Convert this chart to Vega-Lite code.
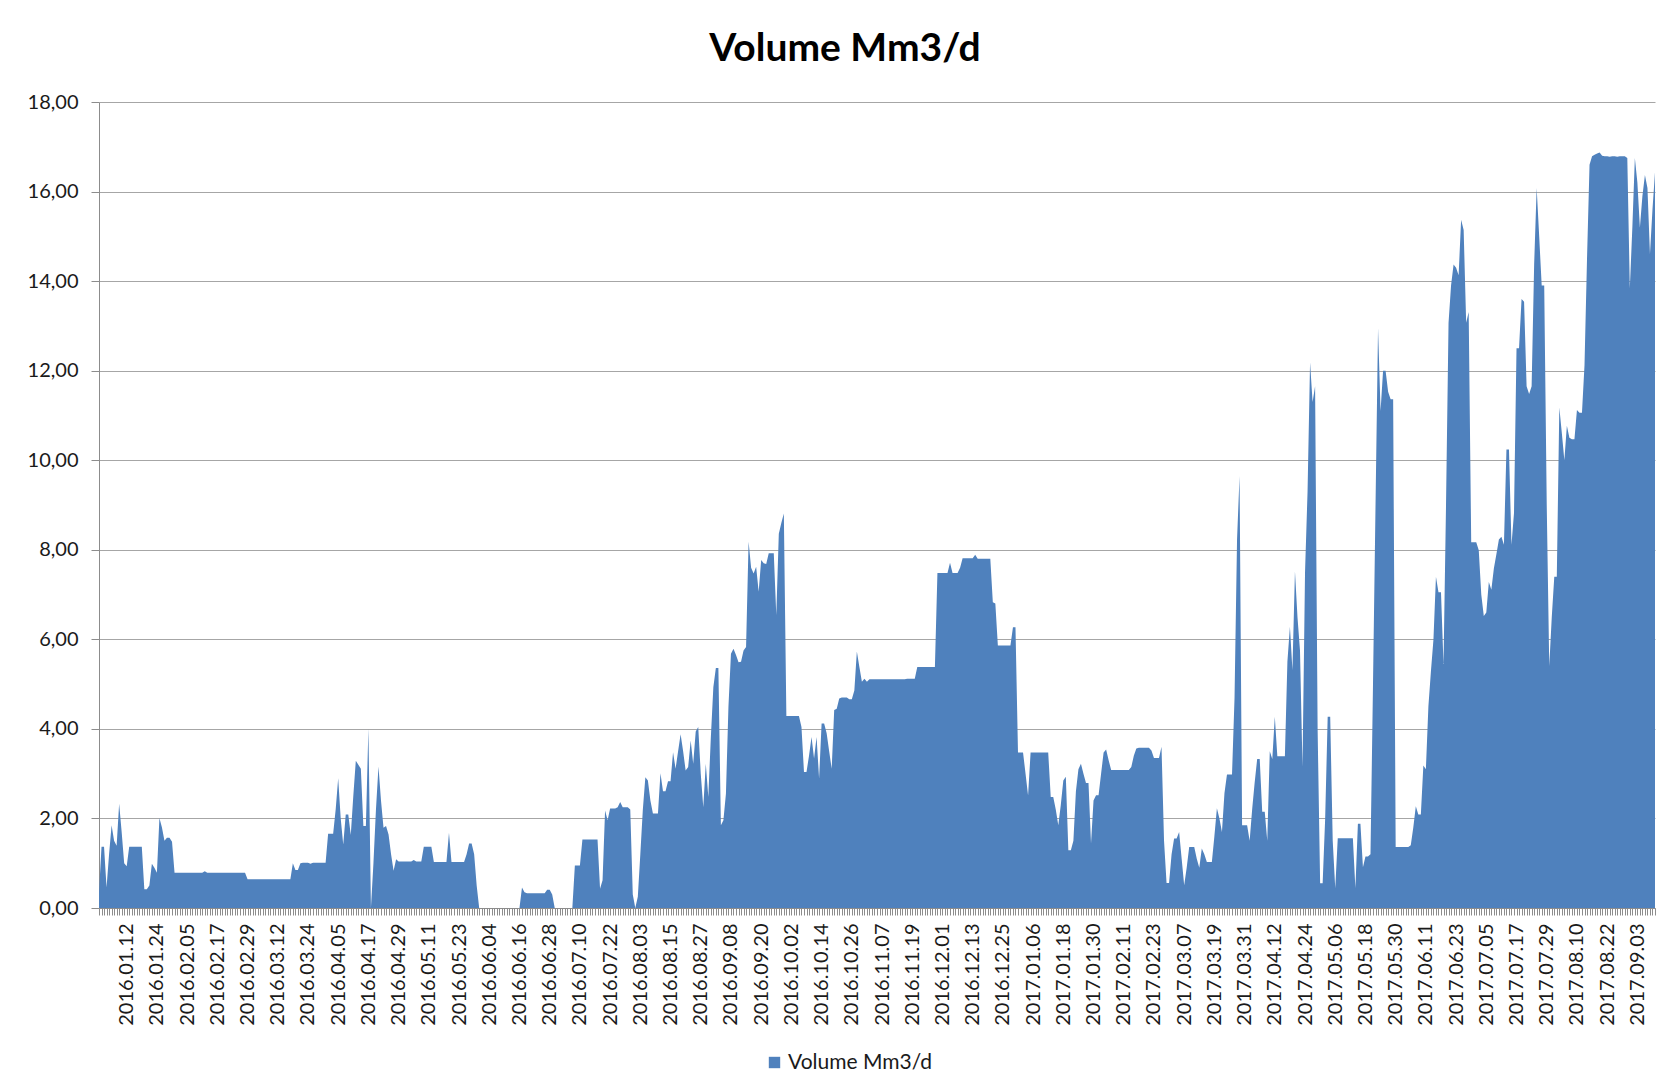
{
  "$schema": "https://vega.github.io/schema/vega-lite/v6.json",
  "autosize": {"type": "none"},
  "padding": {"left": 99, "top": 102, "right": 15, "bottom": 183},
  "width": 1556,
  "height": 806,
  "background": "white",
  "config": {"view": {"stroke": null}, "font": "Lato"},
  "title": {"text": "Volume Mm3/d", "fontSize": 39, "font": "Lato", "fontWeight": "bold", "color": "#000000", "anchor": "middle", "dx": -32, "offset": 23},
  "data": {
    "format": {"parse": {"date": "utc:'%Y-%m-%d'"}},
    "values": [
{"date":"2016-01-01","v":0.35},{"date":"2016-01-02","v":1.37},{"date":"2016-01-03","v":1.37},{"date":"2016-01-04","v":0.46},{"date":"2016-01-05","v":1.2},{"date":"2016-01-06","v":1.85},{"date":"2016-01-07","v":1.5},{"date":"2016-01-08","v":1.39},{"date":"2016-01-09","v":2.33},{"date":"2016-01-10","v":1.7},{"date":"2016-01-11","v":1.0},{"date":"2016-01-12","v":0.93},{"date":"2016-01-13","v":1.37},{"date":"2016-01-14","v":1.37},{"date":"2016-01-15","v":1.37},{"date":"2016-01-16","v":1.37},{"date":"2016-01-17","v":1.37},{"date":"2016-01-18","v":1.37},{"date":"2016-01-19","v":0.42},{"date":"2016-01-20","v":0.42},{"date":"2016-01-21","v":0.5},{"date":"2016-01-22","v":0.99},{"date":"2016-01-23","v":0.9},{"date":"2016-01-24","v":0.79},{"date":"2016-01-25","v":2.01},{"date":"2016-01-26","v":1.8},{"date":"2016-01-27","v":1.5},{"date":"2016-01-28","v":1.57},{"date":"2016-01-29","v":1.57},{"date":"2016-01-30","v":1.48},{"date":"2016-01-31","v":0.79},
{"date":"2016-02-01","v":0.79},{"date":"2016-02-02","v":0.79},{"date":"2016-02-03","v":0.79},{"date":"2016-02-04","v":0.79},{"date":"2016-02-05","v":0.79},{"date":"2016-02-06","v":0.79},{"date":"2016-02-07","v":0.79},{"date":"2016-02-08","v":0.79},{"date":"2016-02-09","v":0.79},{"date":"2016-02-10","v":0.79},{"date":"2016-02-11","v":0.79},{"date":"2016-02-12","v":0.82},{"date":"2016-02-13","v":0.79},{"date":"2016-02-14","v":0.79},{"date":"2016-02-15","v":0.79},{"date":"2016-02-16","v":0.79},{"date":"2016-02-17","v":0.79},{"date":"2016-02-18","v":0.79},{"date":"2016-02-19","v":0.79},{"date":"2016-02-20","v":0.79},{"date":"2016-02-21","v":0.79},{"date":"2016-02-22","v":0.79},{"date":"2016-02-23","v":0.79},{"date":"2016-02-24","v":0.79},{"date":"2016-02-25","v":0.79},{"date":"2016-02-26","v":0.79},{"date":"2016-02-27","v":0.79},{"date":"2016-02-28","v":0.79},{"date":"2016-02-29","v":0.64},
{"date":"2016-03-01","v":0.64},{"date":"2016-03-02","v":0.64},{"date":"2016-03-03","v":0.64},{"date":"2016-03-04","v":0.64},{"date":"2016-03-05","v":0.64},{"date":"2016-03-06","v":0.64},{"date":"2016-03-07","v":0.64},{"date":"2016-03-08","v":0.64},{"date":"2016-03-09","v":0.64},{"date":"2016-03-10","v":0.64},{"date":"2016-03-11","v":0.64},{"date":"2016-03-12","v":0.64},{"date":"2016-03-13","v":0.64},{"date":"2016-03-14","v":0.64},{"date":"2016-03-15","v":0.64},{"date":"2016-03-16","v":0.64},{"date":"2016-03-17","v":0.64},{"date":"2016-03-18","v":1.0},{"date":"2016-03-19","v":0.85},{"date":"2016-03-20","v":0.85},{"date":"2016-03-21","v":1.0},{"date":"2016-03-22","v":1.01},{"date":"2016-03-23","v":1.01},{"date":"2016-03-24","v":1.01},{"date":"2016-03-25","v":0.99},{"date":"2016-03-26","v":1.01},{"date":"2016-03-27","v":1.01},{"date":"2016-03-28","v":1.01},{"date":"2016-03-29","v":1.01},{"date":"2016-03-30","v":1.01},{"date":"2016-03-31","v":1.01},
{"date":"2016-04-01","v":1.66},{"date":"2016-04-02","v":1.66},{"date":"2016-04-03","v":1.66},{"date":"2016-04-04","v":2.2},{"date":"2016-04-05","v":2.9},{"date":"2016-04-06","v":2.0},{"date":"2016-04-07","v":1.42},{"date":"2016-04-08","v":2.09},{"date":"2016-04-09","v":2.09},{"date":"2016-04-10","v":1.63},{"date":"2016-04-11","v":2.5},{"date":"2016-04-12","v":3.29},{"date":"2016-04-13","v":3.2},{"date":"2016-04-14","v":3.11},{"date":"2016-04-15","v":1.83},{"date":"2016-04-16","v":1.83},{"date":"2016-04-17","v":4.01},{"date":"2016-04-18","v":0.0},{"date":"2016-04-19","v":1.0},{"date":"2016-04-20","v":2.2},{"date":"2016-04-21","v":3.16},{"date":"2016-04-22","v":2.4},{"date":"2016-04-23","v":1.79},{"date":"2016-04-24","v":1.83},{"date":"2016-04-25","v":1.64},{"date":"2016-04-26","v":1.2},{"date":"2016-04-27","v":0.83},{"date":"2016-04-28","v":1.09},{"date":"2016-04-29","v":1.04},{"date":"2016-04-30","v":1.04},
{"date":"2016-05-01","v":1.04},{"date":"2016-05-02","v":1.04},{"date":"2016-05-03","v":1.04},{"date":"2016-05-04","v":1.04},{"date":"2016-05-05","v":1.07},{"date":"2016-05-06","v":1.04},{"date":"2016-05-07","v":1.04},{"date":"2016-05-08","v":1.04},{"date":"2016-05-09","v":1.37},{"date":"2016-05-10","v":1.37},{"date":"2016-05-11","v":1.37},{"date":"2016-05-12","v":1.37},{"date":"2016-05-13","v":1.03},{"date":"2016-05-14","v":1.03},{"date":"2016-05-15","v":1.03},{"date":"2016-05-16","v":1.03},{"date":"2016-05-17","v":1.03},{"date":"2016-05-18","v":1.03},{"date":"2016-05-19","v":1.68},{"date":"2016-05-20","v":1.03},{"date":"2016-05-21","v":1.03},{"date":"2016-05-22","v":1.03},{"date":"2016-05-23","v":1.03},{"date":"2016-05-24","v":1.03},{"date":"2016-05-25","v":1.03},{"date":"2016-05-26","v":1.2},{"date":"2016-05-27","v":1.44},{"date":"2016-05-28","v":1.44},{"date":"2016-05-29","v":1.2},{"date":"2016-05-30","v":0.5},{"date":"2016-05-31","v":0},
{"date":"2016-06-01","v":0},{"date":"2016-06-02","v":0},{"date":"2016-06-03","v":0},{"date":"2016-06-04","v":0},{"date":"2016-06-05","v":0},{"date":"2016-06-06","v":0},{"date":"2016-06-07","v":0},{"date":"2016-06-08","v":0},{"date":"2016-06-09","v":0},{"date":"2016-06-10","v":0},{"date":"2016-06-11","v":0},{"date":"2016-06-12","v":0},{"date":"2016-06-13","v":0},{"date":"2016-06-14","v":0},{"date":"2016-06-15","v":0},{"date":"2016-06-16","v":0},{"date":"2016-06-17","v":0.46},{"date":"2016-06-18","v":0.35},{"date":"2016-06-19","v":0.33},{"date":"2016-06-20","v":0.33},{"date":"2016-06-21","v":0.33},{"date":"2016-06-22","v":0.33},{"date":"2016-06-23","v":0.33},{"date":"2016-06-24","v":0.33},{"date":"2016-06-25","v":0.33},{"date":"2016-06-26","v":0.33},{"date":"2016-06-27","v":0.41},{"date":"2016-06-28","v":0.41},{"date":"2016-06-29","v":0.3},{"date":"2016-06-30","v":0},
{"date":"2016-07-01","v":0},{"date":"2016-07-02","v":0},{"date":"2016-07-03","v":0},{"date":"2016-07-04","v":0},{"date":"2016-07-05","v":0},{"date":"2016-07-06","v":0},{"date":"2016-07-07","v":0},{"date":"2016-07-08","v":0.95},{"date":"2016-07-09","v":0.95},{"date":"2016-07-10","v":0.95},{"date":"2016-07-11","v":1.53},{"date":"2016-07-12","v":1.53},{"date":"2016-07-13","v":1.53},{"date":"2016-07-14","v":1.53},{"date":"2016-07-15","v":1.53},{"date":"2016-07-16","v":1.53},{"date":"2016-07-17","v":1.53},{"date":"2016-07-18","v":0.43},{"date":"2016-07-19","v":0.62},{"date":"2016-07-20","v":2.18},{"date":"2016-07-21","v":1.96},{"date":"2016-07-22","v":2.22},{"date":"2016-07-23","v":2.22},{"date":"2016-07-24","v":2.22},{"date":"2016-07-25","v":2.25},{"date":"2016-07-26","v":2.37},{"date":"2016-07-27","v":2.25},{"date":"2016-07-28","v":2.25},{"date":"2016-07-29","v":2.25},{"date":"2016-07-30","v":2.2},{"date":"2016-07-31","v":0.3},
{"date":"2016-08-01","v":0},{"date":"2016-08-02","v":0.25},{"date":"2016-08-03","v":1.2},{"date":"2016-08-04","v":2.2},{"date":"2016-08-05","v":2.92},{"date":"2016-08-06","v":2.85},{"date":"2016-08-07","v":2.4},{"date":"2016-08-08","v":2.11},{"date":"2016-08-09","v":2.11},{"date":"2016-08-10","v":2.11},{"date":"2016-08-11","v":3.01},{"date":"2016-08-12","v":2.61},{"date":"2016-08-13","v":2.61},{"date":"2016-08-14","v":2.83},{"date":"2016-08-15","v":2.83},{"date":"2016-08-16","v":3.48},{"date":"2016-08-17","v":3.11},{"date":"2016-08-18","v":3.5},{"date":"2016-08-19","v":3.88},{"date":"2016-08-20","v":3.5},{"date":"2016-08-21","v":3.07},{"date":"2016-08-22","v":3.15},{"date":"2016-08-23","v":3.74},{"date":"2016-08-24","v":3.22},{"date":"2016-08-25","v":3.94},{"date":"2016-08-26","v":4.04},{"date":"2016-08-27","v":3.0},{"date":"2016-08-28","v":2.25},{"date":"2016-08-29","v":3.22},{"date":"2016-08-30","v":2.48},{"date":"2016-08-31","v":3.8},
{"date":"2016-09-01","v":4.93},{"date":"2016-09-02","v":5.36},{"date":"2016-09-03","v":5.36},{"date":"2016-09-04","v":1.85},{"date":"2016-09-05","v":1.96},{"date":"2016-09-06","v":2.55},{"date":"2016-09-07","v":4.5},{"date":"2016-09-08","v":5.68},{"date":"2016-09-09","v":5.79},{"date":"2016-09-10","v":5.65},{"date":"2016-09-11","v":5.49},{"date":"2016-09-12","v":5.5},{"date":"2016-09-13","v":5.75},{"date":"2016-09-14","v":5.83},{"date":"2016-09-15","v":8.18},{"date":"2016-09-16","v":7.6},{"date":"2016-09-17","v":7.47},{"date":"2016-09-18","v":7.62},{"date":"2016-09-19","v":7.06},{"date":"2016-09-20","v":7.77},{"date":"2016-09-21","v":7.7},{"date":"2016-09-22","v":7.68},{"date":"2016-09-23","v":7.92},{"date":"2016-09-24","v":7.92},{"date":"2016-09-25","v":7.92},{"date":"2016-09-26","v":6.54},{"date":"2016-09-27","v":8.36},{"date":"2016-09-28","v":8.6},{"date":"2016-09-29","v":8.81},{"date":"2016-09-30","v":4.29},
{"date":"2016-10-01","v":4.29},{"date":"2016-10-02","v":4.29},{"date":"2016-10-03","v":4.29},{"date":"2016-10-04","v":4.29},{"date":"2016-10-05","v":4.29},{"date":"2016-10-06","v":4.04},{"date":"2016-10-07","v":3.04},{"date":"2016-10-08","v":3.04},{"date":"2016-10-09","v":3.4},{"date":"2016-10-10","v":3.82},{"date":"2016-10-11","v":3.34},{"date":"2016-10-12","v":3.82},{"date":"2016-10-13","v":2.89},{"date":"2016-10-14","v":4.12},{"date":"2016-10-15","v":4.12},{"date":"2016-10-16","v":3.9},{"date":"2016-10-17","v":3.5},{"date":"2016-10-18","v":3.11},{"date":"2016-10-19","v":4.42},{"date":"2016-10-20","v":4.45},{"date":"2016-10-21","v":4.68},{"date":"2016-10-22","v":4.7},{"date":"2016-10-23","v":4.7},{"date":"2016-10-24","v":4.7},{"date":"2016-10-25","v":4.66},{"date":"2016-10-26","v":4.66},{"date":"2016-10-27","v":4.86},{"date":"2016-10-28","v":5.73},{"date":"2016-10-29","v":5.38},{"date":"2016-10-30","v":5.05},{"date":"2016-10-31","v":5.12},
{"date":"2016-11-01","v":5.05},{"date":"2016-11-02","v":5.11},{"date":"2016-11-03","v":5.11},{"date":"2016-11-04","v":5.11},{"date":"2016-11-05","v":5.11},{"date":"2016-11-06","v":5.11},{"date":"2016-11-07","v":5.11},{"date":"2016-11-08","v":5.11},{"date":"2016-11-09","v":5.11},{"date":"2016-11-10","v":5.11},{"date":"2016-11-11","v":5.11},{"date":"2016-11-12","v":5.11},{"date":"2016-11-13","v":5.11},{"date":"2016-11-14","v":5.11},{"date":"2016-11-15","v":5.11},{"date":"2016-11-16","v":5.11},{"date":"2016-11-17","v":5.12},{"date":"2016-11-18","v":5.12},{"date":"2016-11-19","v":5.12},{"date":"2016-11-20","v":5.12},{"date":"2016-11-21","v":5.38},{"date":"2016-11-22","v":5.38},{"date":"2016-11-23","v":5.38},{"date":"2016-11-24","v":5.38},{"date":"2016-11-25","v":5.38},{"date":"2016-11-26","v":5.38},{"date":"2016-11-27","v":5.38},{"date":"2016-11-28","v":5.38},{"date":"2016-11-29","v":7.48},{"date":"2016-11-30","v":7.48},
{"date":"2016-12-01","v":7.48},{"date":"2016-12-02","v":7.48},{"date":"2016-12-03","v":7.48},{"date":"2016-12-04","v":7.71},{"date":"2016-12-05","v":7.48},{"date":"2016-12-06","v":7.48},{"date":"2016-12-07","v":7.48},{"date":"2016-12-08","v":7.6},{"date":"2016-12-09","v":7.81},{"date":"2016-12-10","v":7.81},{"date":"2016-12-11","v":7.81},{"date":"2016-12-12","v":7.81},{"date":"2016-12-13","v":7.81},{"date":"2016-12-14","v":7.89},{"date":"2016-12-15","v":7.8},{"date":"2016-12-16","v":7.8},{"date":"2016-12-17","v":7.8},{"date":"2016-12-18","v":7.8},{"date":"2016-12-19","v":7.8},{"date":"2016-12-20","v":7.8},{"date":"2016-12-21","v":6.83},{"date":"2016-12-22","v":6.8},{"date":"2016-12-23","v":5.86},{"date":"2016-12-24","v":5.86},{"date":"2016-12-25","v":5.86},{"date":"2016-12-26","v":5.86},{"date":"2016-12-27","v":5.86},{"date":"2016-12-28","v":5.86},{"date":"2016-12-29","v":6.27},{"date":"2016-12-30","v":6.27},{"date":"2016-12-31","v":3.47},
{"date":"2017-01-01","v":3.47},{"date":"2017-01-02","v":3.47},{"date":"2017-01-03","v":3.0},{"date":"2017-01-04","v":2.51},{"date":"2017-01-05","v":3.47},{"date":"2017-01-06","v":3.47},{"date":"2017-01-07","v":3.47},{"date":"2017-01-08","v":3.47},{"date":"2017-01-09","v":3.47},{"date":"2017-01-10","v":3.47},{"date":"2017-01-11","v":3.47},{"date":"2017-01-12","v":3.47},{"date":"2017-01-13","v":2.48},{"date":"2017-01-14","v":2.48},{"date":"2017-01-15","v":2.2},{"date":"2017-01-16","v":1.85},{"date":"2017-01-17","v":2.3},{"date":"2017-01-18","v":2.85},{"date":"2017-01-19","v":2.93},{"date":"2017-01-20","v":1.29},{"date":"2017-01-21","v":1.29},{"date":"2017-01-22","v":1.5},{"date":"2017-01-23","v":2.6},{"date":"2017-01-24","v":3.1},{"date":"2017-01-25","v":3.22},{"date":"2017-01-26","v":3.0},{"date":"2017-01-27","v":2.79},{"date":"2017-01-28","v":2.79},{"date":"2017-01-29","v":1.44},{"date":"2017-01-30","v":2.4},{"date":"2017-01-31","v":2.52},
{"date":"2017-02-01","v":2.52},{"date":"2017-02-02","v":3.0},{"date":"2017-02-03","v":3.47},{"date":"2017-02-04","v":3.54},{"date":"2017-02-05","v":3.3},{"date":"2017-02-06","v":3.08},{"date":"2017-02-07","v":3.08},{"date":"2017-02-08","v":3.08},{"date":"2017-02-09","v":3.08},{"date":"2017-02-10","v":3.08},{"date":"2017-02-11","v":3.08},{"date":"2017-02-12","v":3.08},{"date":"2017-02-13","v":3.08},{"date":"2017-02-14","v":3.15},{"date":"2017-02-15","v":3.4},{"date":"2017-02-16","v":3.56},{"date":"2017-02-17","v":3.58},{"date":"2017-02-18","v":3.58},{"date":"2017-02-19","v":3.58},{"date":"2017-02-20","v":3.58},{"date":"2017-02-21","v":3.58},{"date":"2017-02-22","v":3.52},{"date":"2017-02-23","v":3.35},{"date":"2017-02-24","v":3.35},{"date":"2017-02-25","v":3.35},{"date":"2017-02-26","v":3.6},{"date":"2017-02-27","v":1.5},{"date":"2017-02-28","v":0.56},
{"date":"2017-03-01","v":0.56},{"date":"2017-03-02","v":1.2},{"date":"2017-03-03","v":1.55},{"date":"2017-03-04","v":1.55},{"date":"2017-03-05","v":1.7},{"date":"2017-03-06","v":1.1},{"date":"2017-03-07","v":0.51},{"date":"2017-03-08","v":0.9},{"date":"2017-03-09","v":1.36},{"date":"2017-03-10","v":1.36},{"date":"2017-03-11","v":1.36},{"date":"2017-03-12","v":1.1},{"date":"2017-03-13","v":0.9},{"date":"2017-03-14","v":1.33},{"date":"2017-03-15","v":1.2},{"date":"2017-03-16","v":1.03},{"date":"2017-03-17","v":1.03},{"date":"2017-03-18","v":1.03},{"date":"2017-03-19","v":1.6},{"date":"2017-03-20","v":2.23},{"date":"2017-03-21","v":2.0},{"date":"2017-03-22","v":1.7},{"date":"2017-03-23","v":2.56},{"date":"2017-03-24","v":2.98},{"date":"2017-03-25","v":2.98},{"date":"2017-03-26","v":2.98},{"date":"2017-03-27","v":4.69},{"date":"2017-03-28","v":8.23},{"date":"2017-03-29","v":9.65},{"date":"2017-03-30","v":1.85},{"date":"2017-03-31","v":1.85},
{"date":"2017-04-01","v":1.85},{"date":"2017-04-02","v":1.5},{"date":"2017-04-03","v":2.2},{"date":"2017-04-04","v":2.8},{"date":"2017-04-05","v":3.33},{"date":"2017-04-06","v":3.33},{"date":"2017-04-07","v":2.15},{"date":"2017-04-08","v":2.15},{"date":"2017-04-09","v":1.5},{"date":"2017-04-10","v":3.5},{"date":"2017-04-11","v":3.33},{"date":"2017-04-12","v":4.27},{"date":"2017-04-13","v":3.39},{"date":"2017-04-14","v":3.39},{"date":"2017-04-15","v":3.39},{"date":"2017-04-16","v":3.39},{"date":"2017-04-17","v":5.5},{"date":"2017-04-18","v":6.28},{"date":"2017-04-19","v":5.31},{"date":"2017-04-20","v":7.52},{"date":"2017-04-21","v":6.5},{"date":"2017-04-22","v":5.75},{"date":"2017-04-23","v":3.15},{"date":"2017-04-24","v":7.5},{"date":"2017-04-25","v":9.29},{"date":"2017-04-26","v":12.18},{"date":"2017-04-27","v":11.3},{"date":"2017-04-28","v":11.65},{"date":"2017-04-29","v":4.0},{"date":"2017-04-30","v":0.55},
{"date":"2017-05-01","v":0.55},{"date":"2017-05-02","v":2.0},{"date":"2017-05-03","v":4.27},{"date":"2017-05-04","v":4.27},{"date":"2017-05-05","v":1.5},{"date":"2017-05-06","v":0.44},{"date":"2017-05-07","v":1.56},{"date":"2017-05-08","v":1.56},{"date":"2017-05-09","v":1.56},{"date":"2017-05-10","v":1.56},{"date":"2017-05-11","v":1.56},{"date":"2017-05-12","v":1.56},{"date":"2017-05-13","v":1.56},{"date":"2017-05-14","v":0.44},{"date":"2017-05-15","v":1.88},{"date":"2017-05-16","v":1.88},{"date":"2017-05-17","v":0.91},{"date":"2017-05-18","v":1.15},{"date":"2017-05-19","v":1.15},{"date":"2017-05-20","v":1.2},{"date":"2017-05-21","v":5.0},{"date":"2017-05-22","v":9.0},{"date":"2017-05-23","v":12.95},{"date":"2017-05-24","v":11.1},{"date":"2017-05-25","v":12.0},{"date":"2017-05-26","v":12.0},{"date":"2017-05-27","v":11.53},{"date":"2017-05-28","v":11.36},{"date":"2017-05-29","v":11.36},{"date":"2017-05-30","v":1.36},{"date":"2017-05-31","v":1.36},
{"date":"2017-06-01","v":1.36},{"date":"2017-06-02","v":1.36},{"date":"2017-06-03","v":1.36},{"date":"2017-06-04","v":1.36},{"date":"2017-06-05","v":1.4},{"date":"2017-06-06","v":1.8},{"date":"2017-06-07","v":2.27},{"date":"2017-06-08","v":2.09},{"date":"2017-06-09","v":2.09},{"date":"2017-06-10","v":3.18},{"date":"2017-06-11","v":3.1},{"date":"2017-06-12","v":4.5},{"date":"2017-06-13","v":5.28},{"date":"2017-06-14","v":5.99},{"date":"2017-06-15","v":7.4},{"date":"2017-06-16","v":7.05},{"date":"2017-06-17","v":7.05},{"date":"2017-06-18","v":5.45},{"date":"2017-06-19","v":9.0},{"date":"2017-06-20","v":13.07},{"date":"2017-06-21","v":13.9},{"date":"2017-06-22","v":14.37},{"date":"2017-06-23","v":14.3},{"date":"2017-06-24","v":14.13},{"date":"2017-06-25","v":15.37},{"date":"2017-06-26","v":15.14},{"date":"2017-06-27","v":13.07},{"date":"2017-06-28","v":13.31},{"date":"2017-06-29","v":8.17},{"date":"2017-06-30","v":8.17},
{"date":"2017-07-01","v":8.17},{"date":"2017-07-02","v":7.99},{"date":"2017-07-03","v":7.0},{"date":"2017-07-04","v":6.52},{"date":"2017-07-05","v":6.6},{"date":"2017-07-06","v":7.28},{"date":"2017-07-07","v":7.11},{"date":"2017-07-08","v":7.58},{"date":"2017-07-09","v":7.9},{"date":"2017-07-10","v":8.23},{"date":"2017-07-11","v":8.29},{"date":"2017-07-12","v":8.11},{"date":"2017-07-13","v":10.24},{"date":"2017-07-14","v":10.24},{"date":"2017-07-15","v":8.11},{"date":"2017-07-16","v":8.82},{"date":"2017-07-17","v":12.5},{"date":"2017-07-18","v":12.5},{"date":"2017-07-19","v":13.6},{"date":"2017-07-20","v":13.54},{"date":"2017-07-21","v":11.65},{"date":"2017-07-22","v":11.48},{"date":"2017-07-23","v":11.65},{"date":"2017-07-24","v":14.37},{"date":"2017-07-25","v":16.08},{"date":"2017-07-26","v":15.0},{"date":"2017-07-27","v":13.9},{"date":"2017-07-28","v":13.9},{"date":"2017-07-29","v":9.0},{"date":"2017-07-30","v":5.4},{"date":"2017-07-31","v":6.5},
{"date":"2017-08-01","v":7.4},{"date":"2017-08-02","v":7.4},{"date":"2017-08-03","v":11.18},{"date":"2017-08-04","v":10.6},{"date":"2017-08-05","v":10.0},{"date":"2017-08-06","v":10.77},{"date":"2017-08-07","v":10.5},{"date":"2017-08-08","v":10.47},{"date":"2017-08-09","v":10.47},{"date":"2017-08-10","v":11.12},{"date":"2017-08-11","v":11.06},{"date":"2017-08-12","v":11.06},{"date":"2017-08-13","v":12.12},{"date":"2017-08-14","v":14.5},{"date":"2017-08-15","v":16.6},{"date":"2017-08-16","v":16.79},{"date":"2017-08-17","v":16.82},{"date":"2017-08-18","v":16.85},{"date":"2017-08-19","v":16.87},{"date":"2017-08-20","v":16.8},{"date":"2017-08-21","v":16.79},{"date":"2017-08-22","v":16.79},{"date":"2017-08-23","v":16.78},{"date":"2017-08-24","v":16.79},{"date":"2017-08-25","v":16.79},{"date":"2017-08-26","v":16.78},{"date":"2017-08-27","v":16.79},{"date":"2017-08-28","v":16.79},{"date":"2017-08-29","v":16.79},{"date":"2017-08-30","v":16.75},{"date":"2017-08-31","v":13.84},
{"date":"2017-09-01","v":15.2},{"date":"2017-09-02","v":16.75},{"date":"2017-09-03","v":16.2},{"date":"2017-09-04","v":15.19},{"date":"2017-09-05","v":15.9},{"date":"2017-09-06","v":16.37},{"date":"2017-09-07","v":16.08},{"date":"2017-09-08","v":14.6},{"date":"2017-09-09","v":15.6},{"date":"2017-09-10","v":16.43}
    ]
  },
  "mark": {"type": "area", "interpolate": "linear", "opacity": 1},
  "encoding": {
    "x": {
      "field": "date",
      "type": "temporal",
      "scale": {"type": "utc", "nice": false, "domain": [{"year": 2016, "month": 1, "date": 1, "utc": true}, {"year": 2017, "month": 9, "date": 10, "utc": true}]},
      "axis": {
        "title": null,
        "grid": false,
        "tickCount": {"interval": "day", "step": 1},
        "labelExpr": "(round((datum.value - utc(2016,0,1))/86400000) + 1) % 12 == 0 ? utcFormat(datum.value, '%Y.%m.%d') : ''",
        "labelAngle": -90,
        "labelOverlap": false,
        "labelFlush": false,
        "labelBound": false,
        "labelFont": "Lato",
        "labelFontSize": 20,
        "labelColor": "#1a1a1a",
        "labelPadding": 8,
        "tickSize": 7,
        "tickColor": "#8c8c8c",
        "tickWidth": 1,
        "domainColor": "#8c8c8c",
        "domainWidth": 1
      }
    },
    "y": {
      "field": "v",
      "type": "quantitative",
      "scale": {"domain": [0, 18], "nice": false},
      "axis": {
        "title": null,
        "values": [0, 2, 4, 6, 8, 10, 12, 14, 16, 18],
        "labelExpr": "replace(format(datum.value, '.2f'), '.', ',')",
        "labelFont": "Lato",
        "labelFontSize": 20,
        "labelColor": "#1a1a1a",
        "labelPadding": 13,
        "tickSize": 8,
        "tickColor": "#8c8c8c",
        "domainColor": "#8c8c8c",
        "grid": true,
        "gridColor": "#a6a6a6",
        "gridWidth": 1
      }
    },
    "color": {
      "datum": "Volume Mm3/d",
      "type": "nominal",
      "scale": {"range": ["#4f81bd"]},
      "legend": {
        "title": null,
        "orient": "none",
        "legendX": 665,
        "legendY": 950,
        "direction": "horizontal",
        "symbolType": "square",
        "symbolSize": 130,
        "symbolStrokeWidth": 0,
        "symbolOpacity": 1,
        "labelFont": "Lato",
        "labelFontSize": 21,
        "labelColor": "#1a1a1a",
        "labelOffset": 3
      }
    }
  }
}
